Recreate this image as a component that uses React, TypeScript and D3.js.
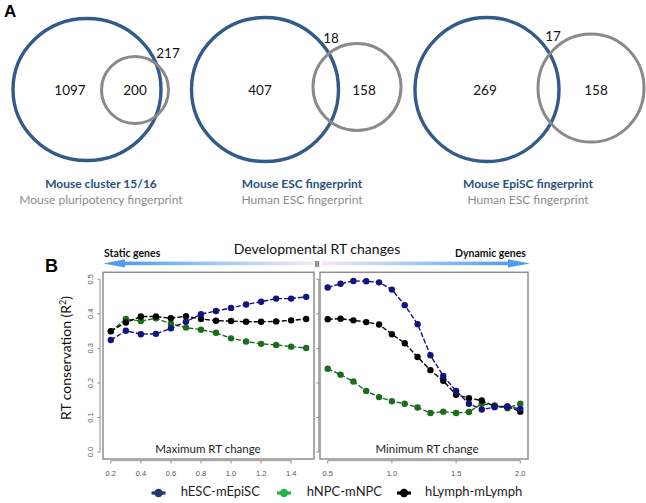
import React from "react";
import * as d3 from "d3";

// ---------- Data ----------
const vennPrimary = ["Mouse cluster 15/16", "Mouse ESC fingerprint", "Mouse EpiSC fingerprint"];
const vennSecondary = ["Mouse pluripotency fingerprint", "Human ESC fingerprint", "Human ESC fingerprint"];
const vennPrimaryOnly = [1097, 407, 269];
const vennSecondaryInside = [200, 158, 158];
const vennOuterLabel = [217, 18, 17];

const leftX = [0.2, 0.3, 0.4, 0.5, 0.6, 0.7, 0.8, 0.9, 1.0, 1.1, 1.2, 1.3, 1.4, 1.5];
const leftESC = [0.324, 0.351, 0.341, 0.342, 0.358, 0.377, 0.399, 0.408, 0.417, 0.427, 0.435, 0.444, 0.444, 0.449];
const leftNPC = [0.349, 0.385, 0.379, 0.387, 0.371, 0.360, 0.354, 0.345, 0.329, 0.320, 0.313, 0.310, 0.305, 0.301];
const leftLymph = [0.350, 0.375, 0.392, 0.392, 0.387, 0.393, 0.385, 0.380, 0.379, 0.377, 0.377, 0.378, 0.381, 0.385];

const rightX = [0.5, 0.6, 0.7, 0.8, 0.9, 1.0, 1.1, 1.2, 1.3, 1.4, 1.5, 1.6, 1.7, 1.8, 1.9, 2.0];
const rightESC = [0.476, 0.487, 0.495, 0.494, 0.491, 0.470, 0.425, 0.370, 0.280, 0.220, 0.177, 0.140, 0.123, 0.130, 0.131, 0.125];
const rightNPC = [0.241, 0.224, 0.204, 0.177, 0.159, 0.147, 0.140, 0.129, 0.113, 0.117, 0.113, 0.116, 0.140, 0.135, 0.127, 0.140];
const rightLymph = [0.384, 0.386, 0.381, 0.376, 0.369, 0.341, 0.315, 0.275, 0.237, 0.206, 0.166, 0.156, 0.149, 0.132, 0.132, 0.117];

const yTicks = [0.0, 0.1, 0.2, 0.3, 0.4, 0.5];
const leftXTicks = [0.2, 0.4, 0.6, 0.8, 1.0, 1.2, 1.4];
const rightXTicks = [0.5, 1.0, 1.5, 2.0];

const seriesNames = ["hESC-mEpiSC", "hNPC-mNPC", "hLymph-mLymph"];

// ---------- Layout / style ----------
const FONT = "Lato, 'Open Sans', sans-serif";
const lineColors = ["#121282", "#1c6c1c", "#000000"];
const legendColors = ["#1f3a68", "#22b24c", "#000000"];
const vennLayout = [
  { big: { cx: 87, cy: 89.5, rx: 74, ry: 71 }, small: { cx: 135, cy: 90, rx: 33.5, ry: 33.5 }, pO: [70, 92], sI: [135, 92], oL: [168, 55], lx: 101 },
  { big: { cx: 265, cy: 89.5, rx: 73.5, ry: 72 }, small: { cx: 357, cy: 87, rx: 44, ry: 43.5 }, pO: [260, 92], sI: [364, 92], oL: [331, 40], lx: 302 },
  { big: { cx: 487, cy: 89.5, rx: 72, ry: 72 }, small: { cx: 591, cy: 88, rx: 53, ry: 54 }, pO: [485, 92], sI: [596, 92], oL: [553, 38], lx: 528 },
];

const yScale = d3.scaleLinear().domain([-0.02, 0.52]).range([459, 272.3]);
const xLeft = d3.scaleLinear().domain([0.148, 1.552]).range([103, 314]);
const xRight = d3.scaleLinear().domain([0.44, 2.06]).range([320, 528]);

function Series({ xs, ys, xScale, color }: { xs: number[]; ys: number[]; xScale: any; color: string }) {
  const pts: [number, number][] = xs.map((x, i) => [xScale(x), yScale(ys[i])]);
  const line = d3.line();
  return (
    <g>
      <path d={line(pts) || ""} fill="none" stroke={color} strokeWidth={1.4} strokeDasharray="5,2" />
      {pts.map((p, i) => (
        <circle key={i} cx={p[0]} cy={p[1]} r={3.2} fill={color} />
      ))}
    </g>
  );
}

export default function App() {
  const leftSeries = [leftESC, leftNPC, leftLymph];
  const rightSeries = [rightESC, rightNPC, rightLymph];
  const axisY = 460.7;
  return (
    <div style={{ position: "absolute", left: 0, top: 0 }}>
      <svg width={646} height={503} style={{ display: "block", background: "#fff" }} fontFamily={FONT}>
        <defs>
          <linearGradient id="gl" x1="0" x2="1" y1="0" y2="0">
            <stop offset="0" stopColor="#4f9cf2" />
            <stop offset="0.55" stopColor="#a9cdf5" />
            <stop offset="1" stopColor="#f6e6f4" />
          </linearGradient>
          <linearGradient id="gr" x1="0" x2="1" y1="0" y2="0">
            <stop offset="0" stopColor="#f6e6f4" />
            <stop offset="0.45" stopColor="#a9cdf5" />
            <stop offset="1" stopColor="#4f9cf2" />
          </linearGradient>
        </defs>

        {/* Panel A */}
        <text x={4} y={17} fontSize={17} fontWeight="bold" fontFamily="'Liberation Sans', Arial, sans-serif">A</text>
        {vennLayout.map((v, i) => (
          <g key={i}>
            <ellipse cx={v.big.cx} cy={v.big.cy} rx={v.big.rx} ry={v.big.ry} fill="none" stroke="#335a8a" strokeWidth={3.4} />
            <ellipse cx={v.small.cx} cy={v.small.cy} rx={v.small.rx} ry={v.small.ry} fill="none" stroke="#8a8a8a" strokeWidth={3} />
            <text x={v.pO[0]} y={v.pO[1]} fontSize={13.5} textAnchor="middle" dominantBaseline="middle" fill="#111">{vennPrimaryOnly[i]}</text>
            <text x={v.sI[0]} y={v.sI[1]} fontSize={13.5} textAnchor="middle" dominantBaseline="middle" fill="#111">{vennSecondaryInside[i]}</text>
            <text x={v.oL[0]} y={v.oL[1]} fontSize={13.5} textAnchor="middle" dominantBaseline="middle" fill="#111">{vennOuterLabel[i]}</text>
            <text x={v.lx} y={188} fontSize={12} fontWeight="bold" textAnchor="middle" fill="#2b4f80">{vennPrimary[i]}</text>
            <text x={v.lx} y={204} fontSize={12} textAnchor="middle" fill="#8c8c8c">{vennSecondary[i]}</text>
          </g>
        ))}

        {/* Panel B */}
        <text x={45} y={272} fontSize={18} fontWeight="bold" fontFamily="'Liberation Sans', Arial, sans-serif">B</text>
        <text x={317} y={254} fontSize={14} textAnchor="middle" fill="#111">Developmental RT changes</text>
        <text x={104} y={257} fontSize={10.5} fontWeight="bold" fill="#111">Static genes</text>
        <text x={526} y={257} fontSize={10.5} fontWeight="bold" textAnchor="end" fill="#111">Dynamic genes</text>
        {/* arrows */}
        <rect x={122} y={261.6} width={191} height={3.6} fill="url(#gl)" />
        <path d="M103.3,263.4 L125,259.2 L125,267.6 Z" fill="#4f9cf2" />
        <rect x={322} y={261.6} width={188} height={3.6} fill="url(#gr)" />
        <path d="M530,263.4 L508,259.2 L508,267.6 Z" fill="#4f9cf2" />
        <text x={317} y={266.5} fontSize={8} fontWeight="bold" textAnchor="middle" fill="#333">II</text>

        {/* y axis title */}
        <text transform="translate(71,358) rotate(-90)" fontSize={14} textAnchor="middle" fill="#111">
          RT conservation (R<tspan dy={-5} fontSize={9}>2</tspan><tspan dy={5}>)</tspan>
        </text>

        {/* y axes */}
        <line x1={100} x2={100} y1={yScale(0)} y2={yScale(0.5)} stroke="#777" strokeWidth={0.8} />
        {yTicks.map((t) => (
          <g key={t}>
            <line x1={97.3} x2={100} y1={yScale(t)} y2={yScale(t)} stroke="#777" strokeWidth={0.8} />
            <text transform={`translate(93,${yScale(t)}) rotate(-90)`} fontSize={7.5} textAnchor="middle" fill="#555" fontFamily="'Liberation Sans', Arial, sans-serif">{t.toFixed(1)}</text>
            <line x1={316.2} x2={318.8} y1={yScale(t)} y2={yScale(t)} stroke="#777" strokeWidth={0.8} />
          </g>
        ))}
        <line x1={318.8} x2={318.8} y1={yScale(0)} y2={yScale(0.5)} stroke="#777" strokeWidth={0.8} />

        {/* x axes */}
        <line x1={xLeft(0.2)} x2={xLeft(1.4)} y1={axisY} y2={axisY} stroke="#777" strokeWidth={0.8} />
        {leftXTicks.map((t) => (
          <g key={t}>
            <line x1={xLeft(t)} x2={xLeft(t)} y1={axisY} y2={axisY + 2.8} stroke="#777" strokeWidth={0.8} />
            <text x={xLeft(t)} y={476} fontSize={7.5} textAnchor="middle" fill="#555" fontFamily="'Liberation Sans', Arial, sans-serif">{t.toFixed(1)}</text>
          </g>
        ))}
        <line x1={xRight(0.5)} x2={xRight(2.0)} y1={axisY} y2={axisY} stroke="#777" strokeWidth={0.8} />
        {rightXTicks.map((t) => (
          <g key={t}>
            <line x1={xRight(t)} x2={xRight(t)} y1={axisY} y2={axisY + 2.8} stroke="#777" strokeWidth={0.8} />
            <text x={xRight(t)} y={476} fontSize={7.5} textAnchor="middle" fill="#555" fontFamily="'Liberation Sans', Arial, sans-serif">{t.toFixed(1)}</text>
          </g>
        ))}

        {/* series */}
        {[1, 2, 0].map((k) => (
          <g key={k}>
            <Series xs={leftX} ys={leftSeries[k]} xScale={xLeft} color={lineColors[k]} />
            <Series xs={rightX} ys={rightSeries[k]} xScale={xRight} color={lineColors[k]} />
          </g>
        ))}

        {/* panel boxes */}
        <rect x={103} y={272.3} width={211} height={186.7} fill="none" stroke="#8e8e8e" strokeWidth={1.5} />
        <rect x={320} y={272.3} width={208} height={186.7} fill="none" stroke="#8e8e8e" strokeWidth={1.5} />
        <text x={208} y={453} fontSize={11.5} textAnchor="middle" fill="#222">Maximum RT change</text>
        <text x={427} y={453} fontSize={11.5} textAnchor="middle" fill="#222">Minimum RT change</text>

        {/* legend */}
        {seriesNames.map((n, i) => {
          const lx = [151.5, 277, 397][i];
          const tx = [180.7, 306.7, 425][i];
          return (
            <g key={n}>
              <line x1={lx} x2={lx + 14} y1={493} y2={493} stroke={legendColors[i]} strokeWidth={3.2} />
              <circle cx={lx + 7} cy={493} r={4.2} fill={legendColors[i]} />
              <text x={tx} y={493} fontSize={13} dominantBaseline="middle" fill="#222">{n}</text>
            </g>
          );
        })}
      </svg>
    </div>
  );
}
